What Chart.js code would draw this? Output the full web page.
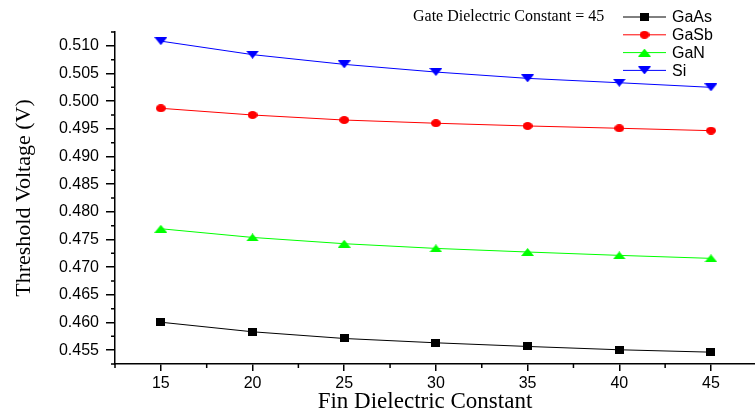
<!DOCTYPE html>
<html>
<head>
<meta charset="utf-8">
<title>Threshold Voltage vs Fin Dielectric Constant</title>
<script src="https://cdn.jsdelivr.net/npm/chart.js@4.4.0/dist/chart.umd.min.js"></script>
<style>
  html, body { margin: 0; padding: 0; background: #fff; }
  #wrap { width: 755px; height: 413px; }
</style>
</head>
<body>
<div id="wrap"><canvas id="chart" width="755" height="413"></canvas></div>
<script>
const finConstants = [15, 20, 25, 30, 35, 40, 45];
const gaAsValues = [0.46005, 0.45832, 0.45711, 0.45633, 0.45567, 0.45507, 0.45464];
const gaSbValues = [0.49871, 0.49750, 0.49659, 0.49601, 0.49552, 0.49510, 0.49467];
const gaNValues = [0.47694, 0.47537, 0.47424, 0.47339, 0.47274, 0.47213, 0.47159];
const siValues = [0.51085, 0.50841, 0.50665, 0.50526, 0.50412, 0.50333, 0.50250];

const xTicks = [15, 20, 25, 30, 35, 40, 45];
const yTicks = [0.455, 0.460, 0.465, 0.470, 0.475, 0.480, 0.485, 0.490, 0.495, 0.500, 0.505, 0.510];

const seriesNames = ["GaAs", "GaSb", "GaN", "Si"];
const annotation = "Gate Dielectric Constant = 45";

const SANS = "'Liberation Sans', Arial, sans-serif";
const SERIF = "'Liberation Serif', 'Times New Roman', serif";

// small canvases used as marker shapes (slightly wide, like the original)
function makeMarker(kind, color) {
  const c = document.createElement("canvas");
  const w = kind === "square" ? 9 : kind === "circle" ? 10 : 13;
  const h = 8;
  c.width = w;
  c.height = h;
  const g = c.getContext("2d");
  g.fillStyle = color;
  g.beginPath();
  if (kind === "square") {
    g.rect(0, 0, w, h);
  } else if (kind === "circle") {
    g.ellipse(w / 2, h / 2, w / 2, h / 2, 0, 0, Math.PI * 2);
  } else if (kind === "up") {
    g.moveTo(w / 2, 0);
    g.lineTo(w, h);
    g.lineTo(0, h);
  } else {
    g.moveTo(0, 0);
    g.lineTo(w, 0);
    g.lineTo(w / 2, h);
  }
  g.closePath();
  g.fill();
  return c;
}

function series(label, values, color, kind) {
  return {
    label,
    data: finConstants.map((x, i) => ({ x, y: values[i] })),
    borderColor: color,
    backgroundColor: color,
    borderWidth: 1,
    pointStyle: makeMarker(kind, color),
    pointRadius: 5,
    pointHoverRadius: 5,
    tension: 0,
  };
}

const datasets = [
  series(seriesNames[0], gaAsValues, "#000000", "square"),
  series(seriesNames[1], gaSbValues, "#ff0000", "circle"),
  series(seriesNames[2], gaNValues, "#00ff00", "up"),
  series(seriesNames[3], siValues, "#0000ff", "down"),
];

function midpoints(ticks) {
  const step = ticks[1] - ticks[0];
  const out = [ticks[0] - step / 2];
  ticks.forEach((t) => out.push(t + step / 2));
  return out;
}

const decorations = {
  id: "decorations",
  afterDraw(chart) {
    const { ctx, chartArea } = chart;
    const xs = chart.scales.x;
    const ys = chart.scales.y;
    ctx.save();

    // minor ticks
    ctx.strokeStyle = "#000";
    ctx.lineWidth = 1.5;
    ctx.beginPath();
    midpoints(yTicks).forEach((v) => {
      const py = ys.getPixelForValue(v);
      if (py < chartArea.top - 1 || py > chartArea.bottom + 1) return;
      ctx.moveTo(chartArea.left - 4, py);
      ctx.lineTo(chartArea.left, py);
    });
    midpoints(xTicks).forEach((v) => {
      const px = xs.getPixelForValue(v);
      if (px < chartArea.left - 1 || px > chartArea.right + 1) return;
      ctx.moveTo(px, chartArea.bottom);
      ctx.lineTo(px, chartArea.bottom + 4);
    });
    ctx.stroke();

    // x axis title
    ctx.fillStyle = "#000";
    ctx.font = "23px " + SERIF;
    ctx.textAlign = "center";
    ctx.textBaseline = "middle";
    ctx.fillText("Fin Dielectric Constant", 425, 402);

    // annotation
    ctx.font = "16px " + SERIF;
    ctx.textAlign = "left";
    ctx.fillText(annotation, 413, 17);

    // legend: line through marker
    ctx.font = "16px " + SANS;
    chart.data.datasets.forEach((ds, i) => {
      const rowY = 17 + i * 17.8;
      ctx.strokeStyle = ds.borderColor;
      ctx.lineWidth = 1;
      ctx.beginPath();
      ctx.moveTo(623, rowY);
      ctx.lineTo(666, rowY);
      ctx.stroke();
      const img = ds.pointStyle;
      ctx.drawImage(img, 644.5 - img.width / 2, rowY - img.height / 2);
      ctx.fillStyle = "#000";
      ctx.fillText(ds.label, 672, rowY + 1);
    });

    ctx.restore();
  },
};

new Chart(document.getElementById("chart"), {
  type: "line",
  data: { datasets },
  options: {
    responsive: false,
    animation: false,
    layout: { autoPadding: false, padding: { top: 32, right: 0, left: 0, bottom: 0 } },
    plugins: {
      legend: { display: false },
      tooltip: { enabled: false },
    },
    scales: {
      x: {
        type: "linear",
        min: 12.5,
        max: 47.4,
        afterBuildTicks: (scale) => {
          scale.ticks = xTicks.map((value) => ({ value }));
        },
        afterFit: (scale) => {
          scale.height = 49;
          scale.paddingLeft = 0;
          scale.paddingRight = 0;
        },
        grid: {
          drawOnChartArea: false,
          drawTicks: true,
          tickLength: 7,
          color: "#000",
          lineWidth: 1.5,
        },
        border: { display: true, color: "#000", width: 1.5 },
        ticks: {
          color: "#000",
          padding: 3,
          maxRotation: 0,
          font: { family: SANS, size: 16 },
          callback: (v) => String(v),
        },
      },
      y: {
        type: "linear",
        min: 0.4525,
        max: 0.5125,
        afterBuildTicks: (scale) => {
          scale.ticks = yTicks.map((value) => ({ value }));
        },
        afterFit: (scale) => {
          scale.width = 115;
        },
        grid: {
          drawOnChartArea: false,
          drawTicks: true,
          tickLength: 9,
          color: "#000",
          lineWidth: 1.5,
        },
        border: { display: true, color: "#000", width: 1.5 },
        ticks: {
          color: "#000",
          padding: 7,
          font: { family: SANS, size: 16 },
          callback: (v) => Number(v).toFixed(3),
        },
        title: {
          display: true,
          text: "Threshold Voltage (V)",
          color: "#000",
          font: { family: SERIF, size: 22 },
          padding: { top: 11, bottom: 0 },
        },
      },
    },
  },
  plugins: [decorations],
});
</script>
</body>
</html>
